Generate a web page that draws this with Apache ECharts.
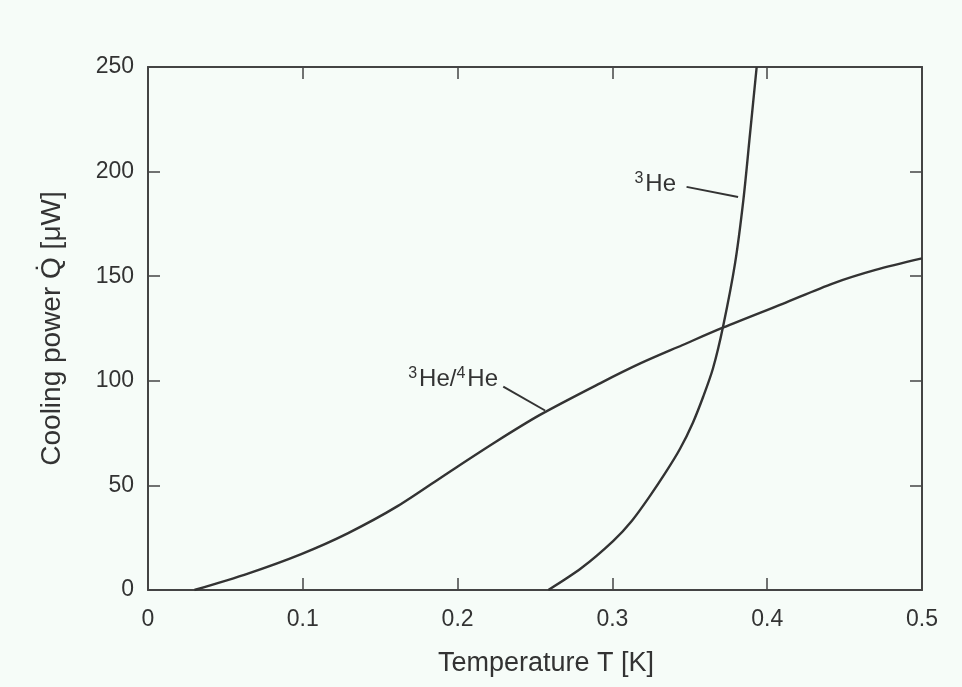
<!DOCTYPE html>
<html>
<head>
<meta charset="utf-8">
<script src="https://cdn.jsdelivr.net/npm/echarts@6/dist/echarts.min.js"></script>
<style>
html,body{margin:0;padding:0;background:#f6fcf8;}
#chart{width:962px;height:687px;}
</style>
</head>
<body>
<div id="chart"></div>
<script>
// Temperature T [K] and cooling power [µW]
const mixT = [0.030, 0.065, 0.099, 0.129, 0.1615, 0.194, 0.225, 0.2532, 0.292, 0.318, 0.345, 0.3717, 0.410, 0.4427, 0.470, 0.500];
const mixQ = [0, 8.0, 17.2, 27.1, 40.2, 56.1, 71.0, 83.7, 98.8, 108.3, 117.0, 125.5, 136.8, 146.6, 153.0, 158.5];
const he3T = [0.2586, 0.280, 0.3006, 0.3125, 0.3243, 0.3345, 0.3437, 0.352, 0.3587, 0.365, 0.3715, 0.3792, 0.3846, 0.3889, 0.3932];
const he3Q = [0, 10.5, 23.5, 33.0, 45.0, 56.3, 67.5, 80.0, 92.5, 106.0, 126.0, 156.0, 186.4, 218.0, 250.0];
const xTicks = [0, 0.1, 0.2, 0.3, 0.4, 0.5];
const yTicks = [0, 50, 100, 150, 200, 250];
// annotation pointers (data coords)
const mixPointer = [[0.2295, 97.2], [0.2565, 85.8]];
const he3Pointer = [[0.3479, 192.7], [0.3812, 187.9]];
const mixLabelAt = [0.2261, 100.5];
const he3LabelAt = [0.3411, 194.0];

const toPairs = (xs, ys) => xs.map((x, i) => [x, ys[i]]);
const ink = '#333';
const font = '"Liberation Sans", Arial, sans-serif';
const rich = {
  t: {fontSize: 24, color: ink, fontFamily: font},
  s: {fontSize: 16, color: ink, fontFamily: font, verticalAlign: 'top', padding: [0, 2, 12, 0]}
};

const chart = echarts.init(document.getElementById('chart'));
const axisCommon = {
  type: 'value',
  axisLine: {show: true, onZero: false, lineStyle: {color: '#444', width: 2}},
  axisTick: {show: true, inside: true, length: 12, lineStyle: {color: '#444', width: 1.5}},
  splitLine: {show: false}
};
chart.setOption({
  backgroundColor: '#f6fcf8',
  animation: false,
  grid: {left: 148, right: 40, top: 67, bottom: 97},
  xAxis: [
    Object.assign({}, axisCommon, {
      min: xTicks[0], max: xTicks[xTicks.length - 1], interval: 0.1,
      name: 'Temperature T [K]', nameLocation: 'middle', nameGap: 60,
      nameTextStyle: {fontSize: 27, color: ink, fontFamily: font, padding: [0, 0, 0, 22]},
      axisLabel: {fontSize: 23, color: ink, fontFamily: font, margin: 18,
        formatter: v => String(Math.round(v * 10) / 10)}
    }),
    Object.assign({}, axisCommon, {
      position: 'top', min: xTicks[0], max: xTicks[xTicks.length - 1], interval: 0.1,
      axisLabel: {show: false}
    })
  ],
  yAxis: [
    Object.assign({}, axisCommon, {
      min: yTicks[0], max: yTicks[yTicks.length - 1], interval: 50,
      name: 'Cooling power Q\u0307 [\u03bcW]', nameLocation: 'middle', nameGap: 82,
      nameTextStyle: {fontSize: 28, color: ink, fontFamily: font},
      axisLabel: {fontSize: 23, color: ink, fontFamily: font, margin: 14}
    }),
    Object.assign({}, axisCommon, {
      position: 'right', min: yTicks[0], max: yTicks[yTicks.length - 1], interval: 50,
      axisLabel: {show: false}
    })
  ],
  series: [
    {
      type: 'line', name: '3He/4He', data: toPairs(mixT, mixQ),
      showSymbol: false, smooth: 0.3,
      lineStyle: {color: ink, width: 2.4}, z: 3,
      markLine: {
        symbol: 'none', silent: true, label: {show: false},
        lineStyle: {color: ink, width: 2, type: 'solid'},
        data: [[{coord: mixPointer[0]}, {coord: mixPointer[1]}]]
      },
      markPoint: {
        symbol: 'circle', symbolSize: 0, silent: true,
        data: [{coord: mixLabelAt, label: {show: true, position: 'left', distance: 0,
          formatter: '{s|3}{t|He/}{s|4}{t|He}', rich: rich}}]
      }
    },
    {
      type: 'line', name: '3He', data: toPairs(he3T, he3Q),
      showSymbol: false, smooth: 0.3,
      lineStyle: {color: ink, width: 2.4}, z: 3,
      markLine: {
        symbol: 'none', silent: true, label: {show: false},
        lineStyle: {color: ink, width: 2, type: 'solid'},
        data: [[{coord: he3Pointer[0]}, {coord: he3Pointer[1]}]]
      },
      markPoint: {
        symbol: 'circle', symbolSize: 0, silent: true,
        data: [{coord: he3LabelAt, label: {show: true, position: 'left', distance: 0,
          formatter: '{s|3}{t|He}', rich: rich}}]
      }
    }
  ]
});
</script>
</body>
</html>
